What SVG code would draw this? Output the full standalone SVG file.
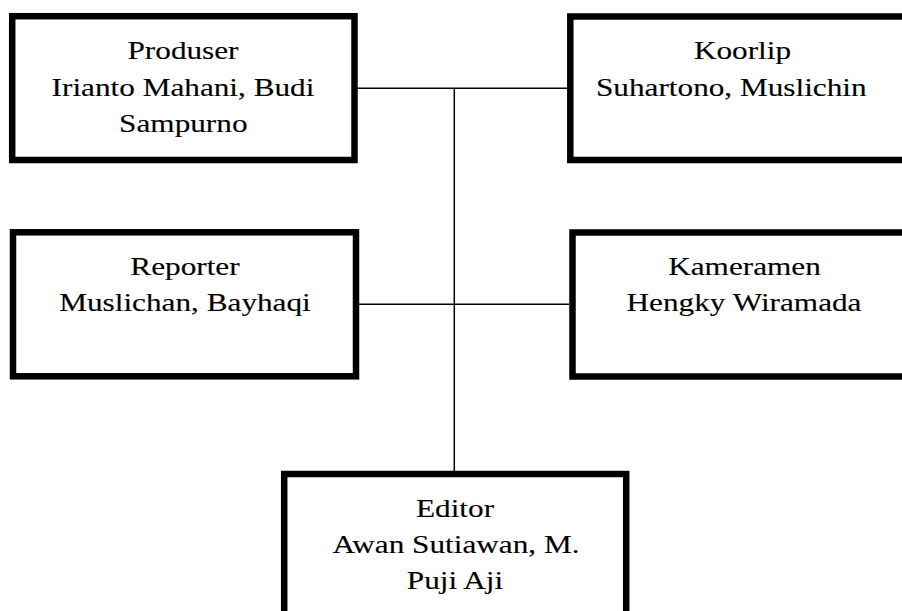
<svg xmlns="http://www.w3.org/2000/svg" width="902" height="611" viewBox="0 0 902 611">
<style>
.box{fill:#fff;stroke:#000;stroke-width:6.5}
.conn{stroke:#000;stroke-width:1.5;fill:none}
.t text{font-family:'Liberation Serif','Times New Roman',serif;font-size:25px;fill:#000;stroke:#000;stroke-width:0.12;text-anchor:middle}
</style>
<rect width="902" height="611" fill="#fff"/>
<g id="connectors">
<line class="conn" x1="357" y1="88.3" x2="567" y2="88.3"/>
<line class="conn" x1="359" y1="304.3" x2="569" y2="304.3"/>
<line class="conn" x1="454.3" y1="88.3" x2="454.3" y2="471"/>
</g>
<g id="produser" class="t">
<rect class="box" x="12.2" y="16.2" width="342.3" height="143.8"/>
<text transform="translate(183 59) scale(1.25 1)">Produser</text>
<text transform="translate(183 95.5) scale(1.25 1)">Irianto Mahani, Budi</text>
<text transform="translate(183.3 132) scale(1.25 1)">Sampurno</text>
</g>
<g id="koorlip" class="t">
<rect class="box" x="570.3" y="16.5" width="345" height="143.5"/>
<text transform="translate(742.5 59) scale(1.25 1)">Koorlip</text>
<text transform="translate(731.3 95.5) scale(1.25 1)">Suhartono, Muslichin</text>
</g>
<g id="reporter" class="t">
<rect class="box" x="13" y="232.3" width="343" height="144"/>
<text transform="translate(185 275) scale(1.25 1)">Reporter</text>
<text transform="translate(185 310.5) scale(1.25 1)">Muslichan, Bayhaqi</text>
</g>
<g id="kameramen" class="t">
<rect class="box" x="572.5" y="232.5" width="345" height="144"/>
<text transform="translate(744.5 275) scale(1.25 1)">Kameramen</text>
<text transform="translate(744 310.5) scale(1.25 1)">Hengky Wiramada</text>
</g>
<g id="editor" class="t">
<rect class="box" x="284.2" y="474" width="342" height="160"/>
<text transform="translate(455 517) scale(1.25 1)">Editor</text>
<text transform="translate(456 553) scale(1.25 1)">Awan Sutiawan, M.</text>
<text transform="translate(455 589) scale(1.25 1)">Puji Aji</text>
</g>
</svg>
